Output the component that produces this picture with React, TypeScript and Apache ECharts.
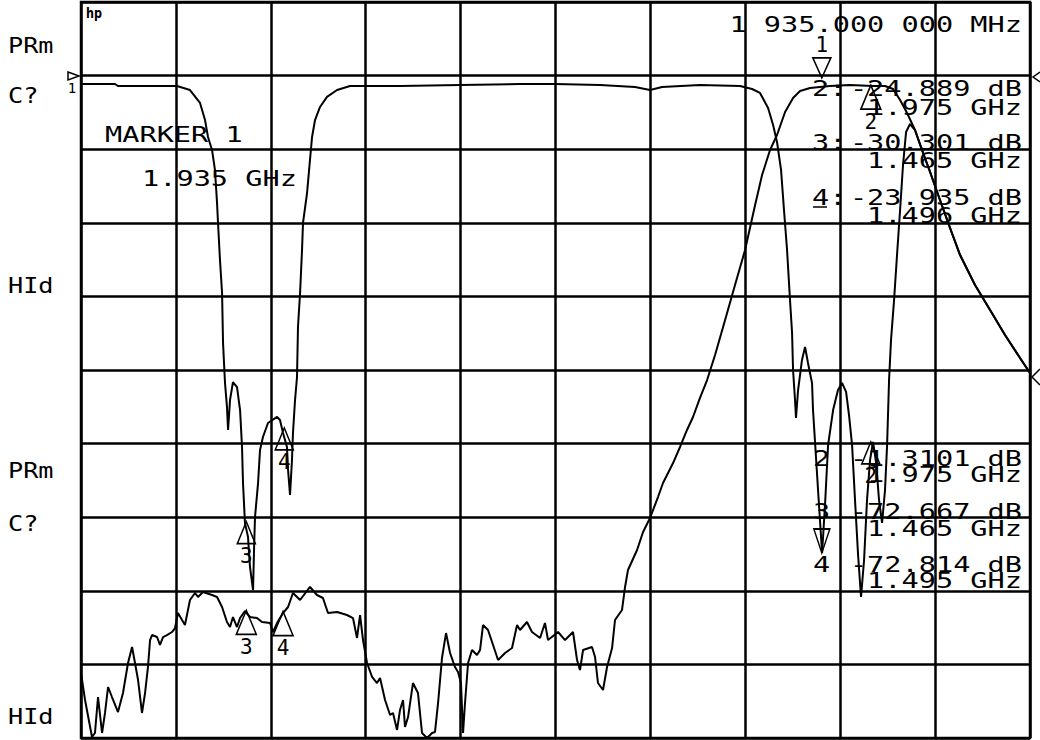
import React, { useEffect, useRef } from "react";
import * as echarts from "echarts";

// Frequency axis (MHz) and grid divisions
const freqStartMHz = 1330;
const freqStopMHz = 2105;
const divisions = 10;

// Channel 1 (5 dB/div, ref 0 dB one division below top)
const ch1Max = 5;
const ch1Min = -45;
// Channel 2 (10 dB/div)
const ch2Max = 10;
const ch2Min = -90;

// Trace A (channel 1) – frequency MHz / dB
const traceAFreq = [
  1330.0, 1357.8, 1360.2, 1408.4, 1419.0, 1427.2, 1431.3, 1433.7, 1437.0, 1439.4,
  1441.1, 1441.9, 1443.5, 1445.2, 1446.0, 1447.6, 1449.2, 1450.1, 1451.7, 1454.1,
  1457.4, 1459.9, 1461.5, 1462.3, 1463.9, 1466.4, 1468.0, 1470.5, 1471.3, 1472.1,
  1474.6, 1476.2, 1478.6, 1482.7, 1490.1, 1492.5, 1495.0, 1498.2, 1499.1, 1500.7,
  1502.3, 1503.1, 1504.8, 1506.4, 1507.2, 1508.9, 1510.5, 1511.3, 1514.6, 1517.0,
  1518.7, 1521.1, 1525.2, 1530.9, 1539.1, 1549.7, 1590.5, 1639.5, 1688.5, 1717.1,
  1753.9, 1782.4, 1794.7, 1804.5, 1835.5, 1868.2, 1878.0, 1884.5, 1891.1, 1895.2,
  1898.4, 1901.7, 1904.1, 1906.6, 1909.0, 1910.7, 1911.5, 1913.1, 1913.9, 1915.6,
  1918.8, 1921.3, 1923.7, 1927.0, 1927.8, 1929.5, 1931.9, 1935.2, 1937.6, 1940.1,
  1944.2, 1948.2, 1951.5, 1954.8, 1957.2, 1959.7, 1962.1, 1964.6, 1967.0, 1969.5,
  1971.9, 1974.4, 1976.8, 1979.3, 1981.7, 1984.2, 1986.6, 1988.3, 1989.9, 1991.5,
  1994.0, 1996.4, 1998.9, 2001.3, 2003.8, 2007.0, 2011.1, 2016.8, 2023.4, 2031.5,
  2039.7, 2047.9, 2060.1, 2072.4, 2084.6, 2096.9, 2105.0,
];
const traceADb = [
  -0.57, -0.57, -0.71, -0.71, -0.98, -1.86, -3.02, -4.17, -5.05, -6.41,
  -8.65, -10.01, -12.53, -14.77, -18.17, -20.88, -22.51, -24.08, -22.04, -20.82,
  -21.16, -22.72, -25.23, -27.68, -30.39, -31.35, -33.38, -34.95, -32.23, -29.99,
  -27.68, -25.43, -24.55, -23.6, -23.19, -23.4, -24.28, -25.23, -26.79, -28.49,
  -26.11, -24.28, -22.04, -20.48, -17.08, -14.77, -11.85, -10.01, -7.98, -5.73,
  -4.17, -3.02, -2.13, -1.45, -0.98, -0.71, -0.71, -0.64, -0.57, -0.57,
  -0.64, -0.77, -0.98, -0.77, -0.64, -0.71, -0.91, -1.18, -2.2, -3.36,
  -4.51, -6.41, -9.13, -11.85, -15.24, -17.49, -20.0, -22.04, -23.26, -21.36,
  -19.32, -18.44, -19.52, -20.88, -22.72, -24.96, -28.15, -32.43, -29.17, -25.1,
  -22.72, -21.36, -20.88, -21.49, -23.06, -25.1, -28.83, -32.57, -35.42, -32.91,
  -28.83, -26.11, -24.89, -26.25, -28.83, -30.39, -28.15, -25.1, -20.68, -17.96,
  -15.24, -12.19, -9.13, -6.07, -3.83, -3.29, -3.7, -5.05, -6.55, -8.45,
  -10.35, -12.19, -14.23, -15.92, -17.62, -19.19, -20.2,
];

// Trace B (channel 2) – frequency MHz / dB
const traceBFreq = [
  1330.0, 1333.3, 1339.0, 1341.4, 1343.9, 1347.2, 1349.6, 1352.1, 1355.3, 1360.2,
  1364.3, 1368.4, 1371.7, 1374.1, 1376.6, 1379.8, 1382.3, 1384.7, 1386.4, 1388.0,
  1392.1, 1394.5, 1397.0, 1400.2, 1404.3, 1406.8, 1409.2, 1412.5, 1414.9, 1419.0,
  1423.1, 1425.6, 1429.6, 1437.0, 1441.1, 1445.2, 1449.2, 1451.7, 1454.1, 1457.4,
  1459.9, 1463.9, 1468.0, 1473.7, 1477.8, 1484.4, 1486.8, 1490.1, 1495.0, 1499.1,
  1503.1, 1508.9, 1517.0, 1522.7, 1527.6, 1531.7, 1539.1, 1547.2, 1552.1, 1555.4,
  1557.9, 1560.3, 1563.6, 1567.7, 1571.7, 1574.2, 1578.3, 1582.4, 1584.8, 1588.1,
  1590.5, 1593.0, 1594.6, 1597.1, 1601.1, 1605.2, 1608.5, 1612.6, 1616.7, 1619.1,
  1621.6, 1624.8, 1628.1, 1631.4, 1635.4, 1637.9, 1640.3, 1642.0, 1643.6, 1646.1,
  1649.3, 1653.4, 1655.9, 1658.3, 1662.4, 1666.5, 1670.6, 1676.3, 1682.0, 1686.1,
  1688.5, 1694.2, 1698.3, 1704.9, 1708.9, 1711.4, 1719.6, 1725.3, 1731.8, 1735.1,
  1737.5, 1740.0, 1747.3, 1749.8, 1752.2, 1756.3, 1759.6, 1763.7, 1766.1, 1771.8,
  1774.3, 1776.7, 1784.1, 1789.0, 1794.7, 1801.2, 1805.3, 1813.5, 1819.2, 1824.9,
  1829.8, 1835.5, 1841.3, 1847.8, 1856.0, 1864.1, 1872.3, 1880.5, 1886.2, 1892.7,
  1898.4, 1905.0, 1911.5, 1917.2, 1925.4, 1941.7, 1958.0, 1976.8, 1986.6, 1993.2,
  1998.9, 2004.6, 2011.1, 2016.8, 2023.4, 2031.5, 2039.7, 2047.9, 2060.1, 2072.4,
  2084.6, 2096.9, 2105.0,
];
const traceBDb = [
  -81.17, -84.84, -89.86, -89.32, -84.43, -89.32, -86.6, -83.07, -84.43, -86.47,
  -83.89, -79.81, -77.64, -79.81, -82.12, -86.6, -83.89, -80.35, -76.69, -76.01,
  -76.28, -77.36, -76.28, -76.01, -75.6, -75.06, -73.02, -73.97, -74.65, -71.25,
  -70.3, -70.84, -70.16, -70.57, -70.84, -72.2, -74.24, -74.92, -73.56, -74.92,
  -73.7, -72.75, -73.56, -73.7, -74.24, -74.38, -75.6, -74.38, -73.02, -72.2,
  -70.3, -71.25, -69.48, -70.57, -70.98, -73.02, -72.88, -73.29, -73.7, -76.41,
  -73.29, -76.69, -79.81, -81.71, -82.53, -81.85, -84.84, -86.87, -86.6, -88.91,
  -86.2, -84.84, -88.5, -87.15, -82.53, -83.89, -89.32, -90.0, -89.32, -89.18,
  -85.24, -79.13, -75.74, -78.45, -80.35, -81.03, -82.53, -89.32, -85.24, -79.81,
  -78.04, -78.72, -78.04, -74.65, -75.33, -77.36, -79.4, -78.45, -77.77, -74.65,
  -75.33, -74.24, -75.6, -76.41, -74.38, -76.69, -75.6, -76.69, -75.6, -79.4,
  -80.76, -78.04, -77.64, -79.0, -82.53, -83.48, -80.35, -77.77, -73.97, -72.61,
  -69.48, -67.17, -64.46, -62.01, -60.11, -57.26, -55.35, -52.64, -50.46, -48.15,
  -46.39, -43.8, -41.36, -37.96, -33.21, -28.45, -23.7, -17.58, -13.51, -10.11,
  -8.07, -4.95, -3.04, -2.09, -1.68, -1.41, -1.28, -1.41, -1.41, -1.82,
  -3.32, -5.08, -7.39, -10.11, -13.1, -16.9, -20.71, -24.38, -28.45, -31.85,
  -35.25, -38.37, -40.41,
];

// Markers
const ch1MarkerNames = ["3", "4", "2"];
const ch1MarkerFreq = [1465, 1496, 1975];
const ch1MarkerDb = [-30.301, -23.935, -24.889];
const ch1ActiveFreq = 1935;
const ch1ActiveDb = -32.43;

const ch2MarkerNames = ["3", "4", "2"];
const ch2MarkerFreq = [1465, 1495, 1975];
const ch2MarkerDb = [-72.667, -72.814, -1.3101];
const ch2ActiveFreq = 1935;
const ch2ActiveDb = -0.3;

// Texts
const leftLabels = ["PRm", "C?", "HId", "PRm", "C?", "HId"];
const activeMarkerText = "1 935.000 000 MHz";
const ch1Readouts = [
  ["2:", "-24.889 dB", "1.975 GHz"],
  ["3:", "-30.301 dB", "1.465 GHz"],
  ["4:", "-23.935 dB", "1.496 GHz"],
];
const ch2Readouts = [
  ["2", "-1.3101 dB", "1.975 GHz"],
  ["3", "-72.667 dB", "1.465 GHz"],
  ["4", "-72.814 dB", "1.495 GHz"],
];
const markerTitle = "MARKER 1";
const markerFreqText = "1.935 GHz";

const FONT = '22px "DejaVu Sans Mono"';
const SX = 1.3;

function txt(text: string, x: number, y: number, align = "left", font = FONT, sx = SX) {
  return {
    type: "text",
    x,
    y,
    scaleX: sx,
    silent: true,
    z: 10,
    style: {
      text,
      font,
      fill: "#000",
      textAlign: align,
      textVerticalAlign: "middle",
    },
  };
}

export default function App() {
  const ref = useRef<HTMLDivElement>(null);
  useEffect(() => {
    if (!ref.current) return;
    const chart = echarts.init(ref.current, null, { renderer: "svg" });

    const zip = (a: number[], b: number[]) => a.map((v, i) => [v, b[i]]);
    const markerData = (names: string[], f: number[], d: number[]) =>
      names.map((n, i) => ({ name: n, value: [f[i], d[i]] }));

    const leftYs = [45, 95, 285, 470, 523, 716];
    const graphics: any[] = [];
    leftLabels.forEach((t, i) => graphics.push(txt(t, 8, leftYs[i], "left", '21px "DejaVu Sans Mono"', 1.2)));
    graphics.push({
      type: "text",
      x: 86,
      y: 13,
      scaleX: 0.8,
      silent: true,
      style: { text: "hp", font: 'bold 14px "DejaVu Sans"', fill: "#000", textVerticalAlign: "middle" },
    });
    graphics.push(txt(markerTitle, 105, 134));
    graphics.push(txt(markerFreqText, 142, 178));
    graphics.push(txt(activeMarkerText, 1022, 24, "right"));
    const ch1Y = [[88, 107], [142, 160], [197, 215]];
    ch1Readouts.forEach((r, i) => {
      graphics.push(txt(r[0], 812, ch1Y[i][0]));
      graphics.push(txt(r[1], 1022, ch1Y[i][0], "right"));
      graphics.push(txt(r[2], 1022, ch1Y[i][1], "right"));
    });
    graphics.push({
      type: "line",
      silent: true,
      shape: { x1: 813, y1: 207, x2: 827, y2: 207 },
      style: { stroke: "#000", lineWidth: 1.5 },
    });
    const ch2Y = [[458, 474], [511, 528], [564, 580]];
    ch2Readouts.forEach((r, i) => {
      graphics.push(txt(r[0], 813, ch2Y[i][0]));
      graphics.push(txt(r[1], 1022, ch2Y[i][0], "right"));
      graphics.push(txt(r[2], 1022, ch2Y[i][1], "right"));
    });
    // reference position indicators
    graphics.push({
      type: "polygon",
      silent: true,
      shape: { points: [[68, 72], [79, 76], [68, 80]] },
      style: { fill: "none", stroke: "#000", lineWidth: 1.5 },
    });
    graphics.push(txt("1", 72, 88, "center", '14px "DejaVu Sans Mono"', 1));
    graphics.push({
      type: "polyline",
      silent: true,
      shape: { points: [[1040, 72], [1033, 77], [1040, 82]] },
      style: { stroke: "#000", lineWidth: 1.5, fill: "none" },
    });
    graphics.push({
      type: "polyline",
      silent: true,
      shape: { points: [[1040, 369], [1032, 377], [1040, 385]] },
      style: { stroke: "#000", lineWidth: 1.5, fill: "none" },
    });

    const triStyle = { color: "rgba(255,255,255,0)", borderColor: "#000", borderWidth: 1.6, opacity: 1 };
    const markLabel = (pos: string) => ({
      show: true,
      position: pos,
      distance: 1,
      formatter: "{b}",
      color: "#000",
      fontFamily: "DejaVu Sans Mono",
      fontSize: 21,
    });

    chart.setOption({
      animation: false,
      backgroundColor: "#fff",
      grid: { left: 81, top: 2, right: 10, bottom: 2, show: true, borderColor: "#000", borderWidth: 2.5 },
      xAxis: [
        {
          type: "value",
          min: 0,
          max: divisions,
          interval: 1,
          axisLabel: { show: false },
          axisTick: { show: false },
          axisLine: { show: false },
          splitLine: { show: true, lineStyle: { color: "#000", width: 2.5 } },
        },
        { type: "value", min: freqStartMHz, max: freqStopMHz, show: false },
      ],
      yAxis: [
        {
          type: "value",
          min: 0,
          max: divisions,
          interval: 1,
          axisLabel: { show: false },
          axisTick: { show: false },
          axisLine: { show: false },
          splitLine: { show: true, lineStyle: { color: "#000", width: 2.5 } },
        },
        { type: "value", min: ch1Min, max: ch1Max, show: false },
        { type: "value", min: ch2Min, max: ch2Max, show: false },
      ],
      graphic: graphics,
      series: [
        {
          type: "line",
          xAxisIndex: 1,
          yAxisIndex: 1,
          data: zip(traceAFreq, traceADb),
          symbol: "none",
          silent: true,
          lineStyle: { color: "#000", width: 2 },
        },
        {
          type: "line",
          xAxisIndex: 1,
          yAxisIndex: 2,
          data: zip(traceBFreq, traceBDb),
          symbol: "none",
          silent: true,
          lineStyle: { color: "#000", width: 2 },
        },
        {
          type: "scatter",
          xAxisIndex: 1,
          yAxisIndex: 1,
          silent: true,
          symbol: "triangle",
          symbolSize: [18, 22],
          symbolOffset: [0, "50%"],
          itemStyle: triStyle,
          label: markLabel("bottom"),
          data: markerData(ch1MarkerNames, ch1MarkerFreq, ch1MarkerDb),
          z: 5,
        },
        {
          type: "scatter",
          xAxisIndex: 1,
          yAxisIndex: 1,
          silent: true,
          symbol: "triangle",
          symbolRotate: 180,
          symbolSize: [16, 24],
          symbolOffset: [0, "-50%"],
          itemStyle: triStyle,
          data: [{ name: "1", value: [ch1ActiveFreq, ch1ActiveDb] }],
          z: 5,
        },
        {
          type: "scatter",
          xAxisIndex: 1,
          yAxisIndex: 2,
          silent: true,
          symbol: "triangle",
          symbolSize: [20, 24],
          symbolOffset: [0, "50%"],
          itemStyle: triStyle,
          label: markLabel("bottom"),
          data: markerData(ch2MarkerNames, ch2MarkerFreq, ch2MarkerDb),
          z: 5,
        },
        {
          type: "scatter",
          xAxisIndex: 1,
          yAxisIndex: 2,
          silent: true,
          symbol: "triangle",
          symbolRotate: 180,
          symbolSize: [18, 20],
          symbolOffset: [0, "-50%"],
          itemStyle: triStyle,
          label: markLabel("top"),
          data: [{ name: "1", value: [ch2ActiveFreq, ch2ActiveDb] }],
          z: 5,
        },
      ],
    });
    return () => chart.dispose();
  }, []);
  return <div ref={ref} style={{ position: "fixed", left: 0, top: 0, width: 1040, height: 740 }} />;
}
